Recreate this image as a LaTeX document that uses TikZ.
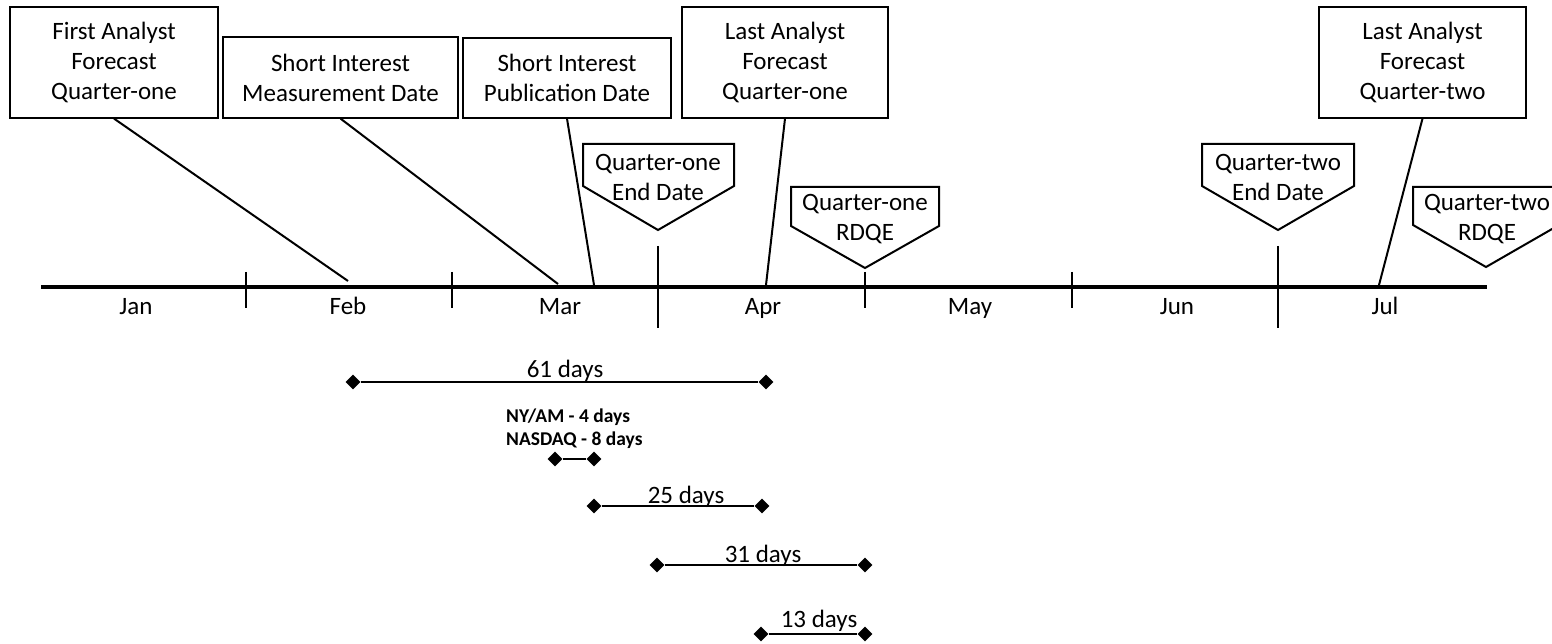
\documentclass[tikz,border=0pt]{standalone}
\usepackage{fontspec}
\setmainfont{Carlito}
\usepackage{tikz}
\usetikzlibrary{positioning,shapes.geometric}

\begin{document}
\begin{tikzpicture}[x=1pt, y=-1pt, every node/.style={font=\fontsize{25}{30}\selectfont},
  box/.style={draw,line width=1.2pt,align=center,inner sep=0pt},
  flag/.style={draw,line width=2pt,fill=white,line join=miter},
  flagtext/.style={align=center,inner sep=0pt},
  lead/.style={line width=2pt},
  endpt/.style={diamond,fill=black,inner sep=0pt,minimum size=15pt},
  interval/.style={line width=2.6pt},
  note/.style={font=\fontsize{19.5}{23}\selectfont\bfseries,anchor=base west,inner sep=0pt}]
\clip (0,0) rectangle (1552,644);
% time axis with month boundaries
\draw[line width=3pt] (41,287) -- (1487,287);
\foreach \x in {246,452,865,1072} \draw[line width=2.2pt] (\x,272) -- (\x,308);
\foreach \x in {658,1278} \draw[line width=2.2pt] (\x,246) -- (\x,328);
\foreach \m/\x in {Jan/136,Feb/348,Mar/560,Apr/763,May/970,Jun/1177,Jul/1385}
  \node[anchor=base] (\m) at (\x,314) {\m};
% event boxes
\node[box,minimum width=208pt,minimum height=111pt] (faq1) at (114,62.5) {First Analyst\\Forecast\\Quarter-one};
\node[box,minimum width=235pt,minimum height=81pt] (sim) at (340.5,77.5) {Short Interest\\Measurement Date};
\node[box,minimum width=208pt,minimum height=80pt] (sip) at (567,78) {Short Interest\\Publication Date};
\node[box,minimum width=206pt,minimum height=111pt] (laq1) at (785,62.5) {Last Analyst\\Forecast\\Quarter-one};
\node[box,minimum width=207pt,minimum height=111pt] (laq2) at (1422.5,62.5) {Last Analyst\\Forecast\\Quarter-two};
\coordinate (tfaq1) at (348,281); \coordinate (tsim) at (558,284); \coordinate (tsip) at (594,285);
\coordinate (tlaq1) at (766,285); \coordinate (tlaq2) at (1379,285);
\draw[lead] (faq1.south)--(tfaq1);\draw[lead] (sim.south)--(tsim);\draw[lead] (sip.south)--(tsip);
\draw[lead] (laq1.south)--(tlaq1);\draw[lead] (laq2.south)--(tlaq2);
% quarter flags
\draw[flag] (583,144) -- (734,144) -- (734,186) -- (658,230) -- (583,186) -- cycle;
\node[flagtext] (q1end) at (658,177) {Quarter-one\\End Date};
\draw[flag] (791,187) -- (939,187) -- (939,226) -- (865,268) -- (791,226) -- cycle;
\node[flagtext] (q1rdqe) at (865,219) {Quarter-one\\RDQE};
\draw[flag] (1202,144) -- (1354,144) -- (1354,186) -- (1278,230) -- (1202,186) -- cycle;
\node[flagtext] (q2end) at (1278,177) {Quarter-two\\End Date};
\draw[flag] (1413,187) -- (1559,187) -- (1559,225) -- (1486,267) -- (1413,225) -- cycle;
\node[flagtext] (q2rdqe) at (1487,219) {Quarter-two\\RDQE};
% intervals
\node[endpt] (a61) at (353,382) {}; \node[endpt] (b61) at (766,382) {};
\draw[interval] (a61)--(b61); \node[anchor=base] (l61) at (565,377) {61 days};
\node[note] (nyam) at (506,422) {NY/AM - 4 days};
\node[note] (nasdaq) at (506,445) {NASDAQ - 8 days};
\node[endpt] (a4) at (555,459) {}; \node[endpt] (b4) at (594,459) {};
\draw[interval] (a4)--(b4);
\node[endpt] (a25) at (594,506) {}; \node[endpt] (b25) at (762,506) {};
\draw[interval] (a25)--(b25); \node[anchor=base] (l25) at (686,503) {25 days};
\node[endpt] (a31) at (657,565) {}; \node[endpt] (b31) at (865,565) {};
\draw[interval] (a31)--(b31); \node[anchor=base] (l31) at (763,562) {31 days};
\node[endpt] (a13) at (761,634) {}; \node[endpt] (b13) at (865,634) {};
\draw[interval] (a13)--(b13); \node[anchor=base] (l13) at (819,627) {13 days};
\end{tikzpicture}
\end{document}
